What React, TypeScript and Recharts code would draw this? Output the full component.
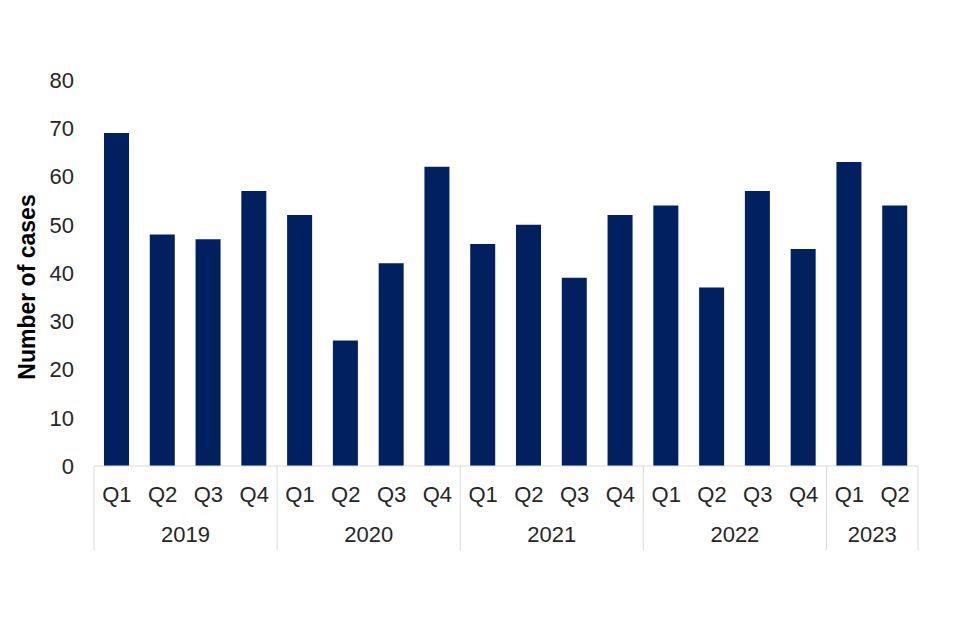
import { BarChart, Bar, XAxis, YAxis } from "recharts";

const quarters = ["Q1", "Q2", "Q3", "Q4", "Q1", "Q2", "Q3", "Q4", "Q1", "Q2", "Q3", "Q4", "Q1", "Q2", "Q3", "Q4", "Q1", "Q2"];
const years = ["2019", "2019", "2019", "2019", "2020", "2020", "2020", "2020", "2021", "2021", "2021", "2021", "2022", "2022", "2022", "2022", "2023", "2023"];
const cases = [69, 48, 47, 57, 52, 26, 42, 62, 46, 50, 39, 52, 54, 37, 57, 45, 63, 54];
const yTicks = [0, 10, 20, 30, 40, 50, 60, 70, 80];

const data = quarters.map((q, i) => ({ key: `${years[i]}-${q}`, quarter: q, year: years[i], cases: cases[i] }));

const W = 960;
const H = 640;
const xAxisHeight = 30;
const margin = { top: 80, right: 42, bottom: 144, left: 0 };
const yAxisWidth = 94;
const band = (W - margin.left - margin.right - yAxisWidth) / data.length;
const font = "'Liberation Sans', Arial, sans-serif";
const textColor = "#262626";
const gridColor = "#d9d9d9";

function QuarterTick(props: any) {
  const { x, y, index } = props;
  const row = data[index];
  const isFirst = index === 0 || data[index - 1].year !== row.year;
  const isLast = index === data.length - 1;
  let groupLen = 0;
  if (isFirst) {
    while (index + groupLen < data.length && data[index + groupLen].year === row.year) groupLen++;
  }
  const left = x - band / 2;
  return (
    <g>
      <text x={x} y={y + 36} textAnchor="middle" fontSize={22} fontFamily={font} fill={textColor}>
        {row.quarter}
      </text>
      {isFirst && (
        <>
          <line x1={left} x2={left} y1={y} y2={y + 84} stroke={gridColor} />
          <text x={left + (groupLen * band) / 2} y={y + 76} textAnchor="middle" fontSize={22} fontFamily={font} fill={textColor}>
            {row.year}
          </text>
        </>
      )}
      {isLast && <line x1={x + band / 2} x2={x + band / 2} y1={y} y2={y + 84} stroke={gridColor} />}
    </g>
  );
}

export default function App() {
  return (
    <div style={{ position: "absolute", left: 0, top: 0, width: W, height: H, background: "#fff" }}>
      <BarChart width={W} height={H} data={data} margin={margin}>
        <XAxis
          dataKey="key"
          height={xAxisHeight}
          interval={0}
          tickLine={false}
          tickSize={0}
          tickMargin={0}
          axisLine={{ stroke: gridColor }}
          tick={<QuarterTick />}
        />
        <YAxis
          width={yAxisWidth}
          domain={[0, 80]}
          ticks={yTicks}
          interval={0}
          axisLine={false}
          tickLine={false}
          tickSize={0}
          tickMargin={20}
          tick={{ fontSize: 22, fontFamily: font, fill: textColor }}
          label={({ viewBox }: any) => {
            const cy = viewBox.y + viewBox.height / 2 + 14;
            return (
              <text
                x={27}
                y={cy}
                transform={`rotate(-90, 27, ${cy})`}
                textAnchor="middle"
                dominantBaseline="central"
                fontSize={23}
                fontWeight="bold"
                fontFamily={font}
                fill="#000"
              >
                Number of cases
              </text>
            );
          }}
        />
        <Bar dataKey="cases" fill="#002060" barSize={25} isAnimationActive={false} />
      </BarChart>
    </div>
  );
}
